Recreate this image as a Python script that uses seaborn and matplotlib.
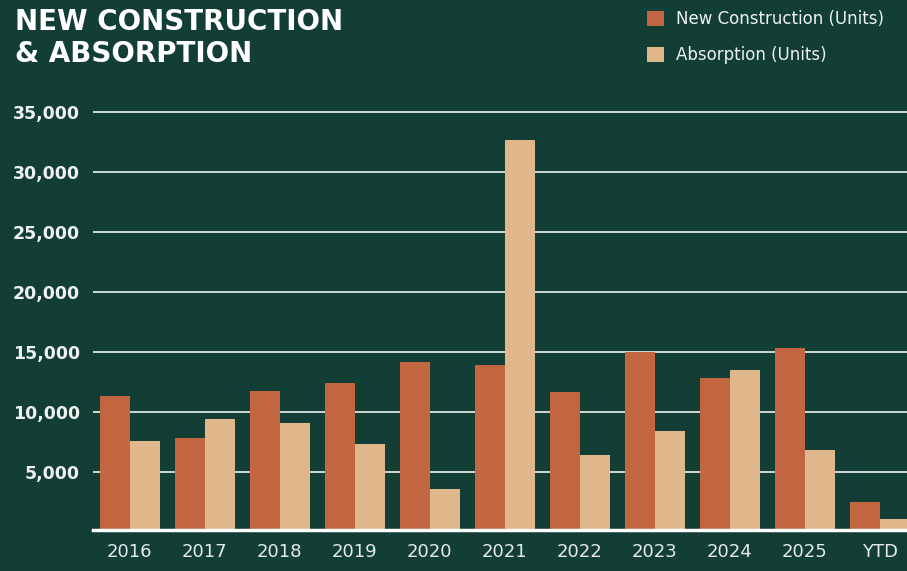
import pandas as pd
import matplotlib
matplotlib.use('Agg')
import matplotlib.pyplot as plt
import seaborn as sns

# values
years = ['2016', '2017', '2018', '2019', '2020', '2021', '2022', '2023', '2024', '2025', 'YTD']
newConstruction = [11300, 7800, 11750, 12400, 14150, 13900, 11650, 15000, 12800, 15300, 2470]
absorption = [7550, 9400, 9050, 7300, 3550, 32650, 6400, 8400, 13480, 6800, 1060]
seriesNames = ['New Construction (Units)', 'Absorption (Units)']
yTicks = [5000, 10000, 15000, 20000, 25000, 30000, 35000]

bgColor = '#123e36'
barColors = ['#c26641', '#e0b68b']
textColor = '#eef1ef'

data = pd.DataFrame({
    'year': years * 2,
    'units': newConstruction + absorption,
    'series': [seriesNames[0]] * len(years) + [seriesNames[1]] * len(years),
})

sns.set_style('white')
plt.rcParams['font.family'] = ['DejaVu Sans']

fig = plt.figure(figsize=(9.07, 5.71), dpi=100, facecolor=bgColor)
ax = fig.add_axes([93 / 907, 39.3 / 571, 1 - 93 / 907, (466 - 39.3) / 571])
ax.set_facecolor(bgColor)

sns.barplot(data=data, x='year', y='units', hue='series', hue_order=seriesNames,
            palette=barColors, saturation=1, order=years, width=0.8, linewidth=0,
            ax=ax, zorder=3)

ax.set_xlim(-0.49, 10.36)
ax.set_ylim(0, 35600)
ax.set_yticks(yTicks)
ax.set_yticklabels([f'{v:,}' for v in yTicks], fontsize=12.5, fontweight='bold', color=textColor)
ax.tick_params(axis='y', length=0, pad=9.5)
ax.tick_params(axis='x', length=0, pad=9, labelsize=13, labelcolor='#e6ebe8')
ax.set_xlabel('')
ax.set_ylabel('')
ax.grid(axis='y', color='#dde5e1', linewidth=1.3, zorder=0)
ax.set_axisbelow(True)
for side in ['top', 'right', 'left']:
    ax.spines[side].set_visible(False)
ax.spines['bottom'].set_color('#ffffff')
ax.spines['bottom'].set_linewidth(2.5)
ax.spines['bottom'].set_position(('data', 120))
ax.spines['bottom'].set_zorder(4)

handles, labels = ax.get_legend_handles_labels()
ax.get_legend().remove()
fig.legend(handles, labels, loc='upper left', bbox_to_anchor=(632 / 907, 1 + 5 / 571),
           frameon=False, fontsize=12, labelcolor=textColor, handlelength=1.0,
           handleheight=1.05, handletextpad=0.75, labelspacing=1.1)

fig.text(15 / 907, 1 - 8 / 571, 'NEW CONSTRUCTION\n& ABSORPTION', ha='left', va='top',
         fontsize=20, fontweight='bold', color='#ffffff', linespacing=1.2)

fig.savefig('out.png', dpi=100, facecolor=bgColor)
